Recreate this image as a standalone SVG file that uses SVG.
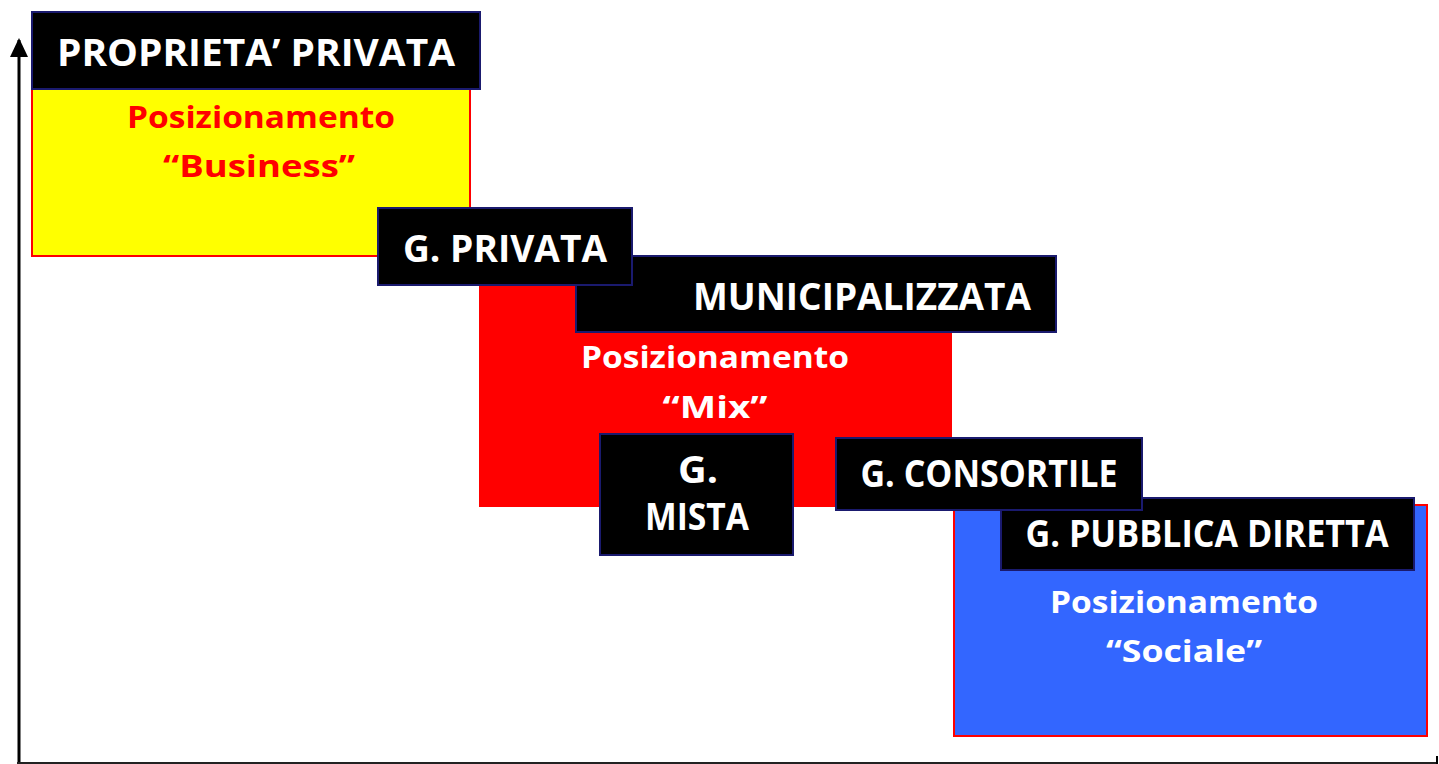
<svg xmlns="http://www.w3.org/2000/svg" width="1439" height="764" viewBox="0 0 1439 764">
<defs>
<style>
.lbl{fill:#000;stroke:#1a1a6e;stroke-width:2}
.t{font-family:"Open Sans","Noto Sans",sans-serif;font-weight:bold;text-anchor:middle}
.w{fill:#fff}
.big{font-size:37px}
.mid{font-size:31px}
</style>
<marker id="ah" markerWidth="10" markerHeight="10" refX="9" refY="5" orient="auto" markerUnits="userSpaceOnUse" viewBox="0 0 10 10">
<path d="M0,0 L10,5 L0,10 Z" fill="#000"/>
</marker>
</defs>
<rect width="1439" height="764" fill="#fff"/>
<g id="connectors">
<path d="M19,763 L19,40" stroke="#000" stroke-width="3" fill="none"/>
<path d="M10,57 L19,38 L28,57 Z" fill="#000"/>
<path d="M17,763 L1438,763" stroke="#222" stroke-width="2" fill="none"/>
<path d="M1437,756 L1437,764" stroke="#000" stroke-width="2"/>
</g>
<g id="business">
<rect x="32" y="40" width="438" height="216" fill="#ffff00" stroke="#ff0000" stroke-width="2"/>
<text class="t mid" x="261" y="128" fill="#ff0000" textLength="268" lengthAdjust="spacingAndGlyphs">Posizionamento</text>
<text class="t mid" x="259" y="177" fill="#ff0000" textLength="192" lengthAdjust="spacingAndGlyphs">“Business”</text>
</g>
<g id="proprieta-privata">
<rect class="lbl" x="32" y="12" width="448" height="77"/>
<text class="t w big" x="256" y="66" textLength="398" lengthAdjust="spacingAndGlyphs">PROPRIETA’ PRIVATA</text>
</g>
<g id="mix">
<rect x="479" y="280" width="473" height="227" fill="#ff0000"/>
<text class="t w mid" x="715" y="368" textLength="268" lengthAdjust="spacingAndGlyphs">Posizionamento</text>
<text class="t w mid" x="715" y="418" textLength="105" lengthAdjust="spacingAndGlyphs">“Mix”</text>
</g>
<g id="municipalizzata">
<rect class="lbl" x="576" y="256" width="480" height="76"/>
<text class="t w big" x="862" y="310" textLength="338" lengthAdjust="spacingAndGlyphs">MUNICIPALIZZATA</text>
</g>
<g id="g-privata">
<rect class="lbl" x="378" y="208" width="254" height="77"/>
<text class="t w big" x="505" y="262" textLength="204" lengthAdjust="spacingAndGlyphs">G. PRIVATA</text>
</g>
<g id="g-mista">
<rect class="lbl" x="600" y="434" width="193" height="121"/>
<text class="t w big" x="698" y="483" textLength="40" lengthAdjust="spacingAndGlyphs">G.</text>
<text class="t w big" x="697" y="530" textLength="104" lengthAdjust="spacingAndGlyphs">MISTA</text>
</g>
<g id="sociale">
<rect x="954" y="505" width="473" height="231" fill="#3366ff" stroke="#ff0000" stroke-width="2"/>
<text class="t w mid" x="1184" y="613" textLength="268" lengthAdjust="spacingAndGlyphs">Posizionamento</text>
<text class="t w mid" x="1184" y="662" textLength="156" lengthAdjust="spacingAndGlyphs">“Sociale”</text>
</g>
<g id="g-pubblica-diretta">
<rect class="lbl" x="1001" y="498" width="413" height="72"/>
<text class="t w big" x="1207" y="547" textLength="363" lengthAdjust="spacingAndGlyphs">G. PUBBLICA DIRETTA</text>
</g>
<g id="g-consortile">
<rect class="lbl" x="836" y="438" width="306" height="72"/>
<text class="t w big" x="989" y="487" textLength="257" lengthAdjust="spacingAndGlyphs">G. CONSORTILE</text>
</g>
</svg>
